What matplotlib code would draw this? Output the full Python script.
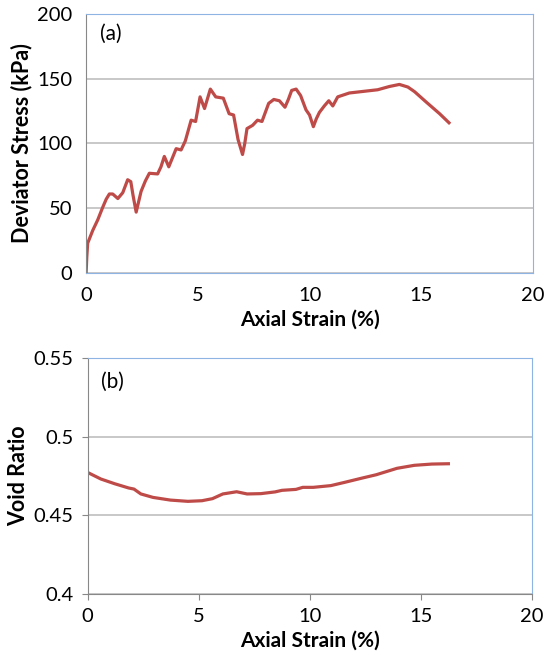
import numpy as np
import matplotlib
matplotlib.use("Agg")
import matplotlib.pyplot as plt

# (a) deviator stress vs axial strain
strainA = [0.0, 0.03, 0.07, 0.3, 0.52, 0.75, 0.9, 1.04, 1.19, 1.42, 1.64, 1.86, 2.0, 2.1,
           2.24, 2.46, 2.65, 2.83, 3.2, 3.35, 3.5, 3.7, 4.03, 4.25, 4.44, 4.7, 4.9, 5.1,
           5.3, 5.56, 5.8, 6.14, 6.4, 6.6, 6.8, 7.0, 7.1, 7.2, 7.45, 7.67, 7.87, 8.17,
           8.4, 8.65, 8.9, 9.05, 9.2, 9.4, 9.6, 9.84, 10.0, 10.17, 10.3, 10.44, 10.66,
           10.86, 11.04, 11.26, 11.78, 13.05, 13.57, 14.02, 14.4, 14.7, 15.22, 15.82, 16.24]
stressA = [0, 12, 23, 33, 41, 51, 57, 61, 61, 57.5, 62, 72, 70.5, 60,
           47, 63, 71, 77, 76.5, 82, 90, 82, 96, 95, 102, 118, 117, 136,
           127, 142, 136, 135, 123, 122, 103, 91.5, 100, 111.5, 114, 118, 117, 131,
           134, 133, 128, 134, 141, 142, 137, 126, 122, 113, 119, 124, 129,
           133, 129, 136, 139, 141.5, 144, 145.6, 143.6, 140, 132, 123, 116]

# (b) void ratio vs axial strain
strainB = [0, 0.6, 1.22, 1.85, 2.09, 2.4, 2.95, 3.73, 4.52, 5.15, 5.62, 6.09, 6.71,
           7.18, 7.8, 8.44, 8.75, 9.38, 9.69, 10.16, 10.95, 11.58, 12.36, 12.99,
           13.93, 14.71, 15.5, 16.24]
voidB = [0.4773, 0.4731, 0.4701, 0.4674, 0.4667, 0.4636, 0.4614, 0.4597, 0.4589,
         0.4593, 0.4606, 0.4636, 0.465, 0.4636, 0.4638, 0.4649, 0.4659, 0.4665,
         0.4678, 0.4678, 0.4689, 0.471, 0.4737, 0.4758, 0.4799, 0.4818, 0.4826, 0.4828]

plt.rcParams['font.family'] = ['Lato', 'DejaVu Sans']

lineColor = '#BE4B48'
gridColor = '#BFBFBF'
edgeColor = '#8EB4E3'


def styleAxes(ax, xlabel, ylabel, tickLen):
    ax.grid(axis='y', color=gridColor, linewidth=1.2)
    ax.set_axisbelow(True)
    ax.spines['top'].set_color(edgeColor)
    ax.spines['right'].set_color(edgeColor)
    ax.spines['left'].set_color('#888888')
    ax.tick_params(axis='both', labelsize=14.5, length=tickLen, color='#888888',
                   pad=10 - tickLen)
    ax.set_xlabel(xlabel, fontsize=15, fontweight='bold', labelpad=4)
    ax.set_ylabel(ylabel, fontsize=15.5, fontweight='bold', labelpad=3)
    ax.set_xlim(0, 20)
    ax.set_xticks([0, 5, 10, 15, 20])


fig = plt.figure(figsize=(5.45, 6.54), dpi=100)

ax1 = fig.add_axes([0.158, 0.5826, 0.820, 0.396])
ax1.plot(strainA, stressA, color=lineColor, linewidth=2.3, solid_joinstyle='round')
ax1.set_ylim(0, 200)
ax1.set_yticks([0, 50, 100, 150, 200])
styleAxes(ax1, "Axial Strain (%)", "Deviator Stress (kPa)", 0)
ax1.spines['bottom'].set_color(edgeColor)
ax1.text(0.03, 0.96, "(a)", transform=ax1.transAxes, fontsize=15, va='top')

ax2 = fig.add_axes([0.1606, 0.0917, 0.8154, 0.3609])
ax2.plot(strainB, voidB, color=lineColor, linewidth=2.3, solid_joinstyle='round')
ax2.set_ylim(0.4, 0.55)
ax2.set_yticks([0.4, 0.45, 0.5, 0.55])
ax2.set_yticklabels(["0.4", "0.45", "0.5", "0.55"])
styleAxes(ax2, "Axial Strain (%)", "Void Ratio", 4)
ax2.spines['bottom'].set_color('#888888')
ax2.text(0.03, 0.94, "(b)", transform=ax2.transAxes, fontsize=15, va='top')

fig.savefig("out.png", dpi=100)
